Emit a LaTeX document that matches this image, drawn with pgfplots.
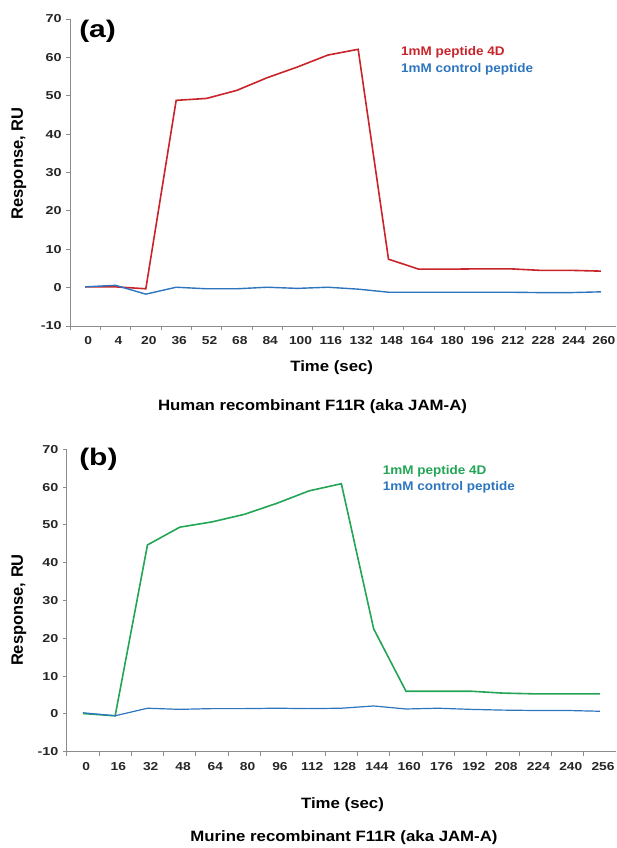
\documentclass[border=0pt]{standalone}
\usepackage{fontspec}
\setmainfont{Liberation Sans}
\usepackage{pgfplots}
\pgfplotsset{compat=1.18}

\definecolor{pepred}{RGB}{200,36,42}
\definecolor{pepblue}{RGB}{45,117,190}
\definecolor{pepgreen}{RGB}{34,165,84}
\definecolor{axgray}{RGB}{140,140,140}

\pgfplotsset{
  spr/.style={
    scale only axis, clip=false,
    axis x line*=bottom, axis y line*=left,
    axis line style={axgray, line width=0.9pt},
    tick style={axgray, line width=0.9pt},
    major tick length=4pt, tick align=outside,
    ymin=-10, ymax=70, ytick={-10,0,...,70},
    /pgf/number format/assume math mode=true,
    tick label style={font=\fontsize{11.5}{13}\selectfont\bfseries, text=black!85},
    yticklabel style={xscale=1.25},
  }
}

\newcommand{\ttl}{\fontsize{15}{17}\selectfont\bfseries}
\newcommand{\leg}{\fontsize{12.5}{14}\selectfont\bfseries}

\begin{document}
\begin{tikzpicture}
\useasboundingbox (0pt,0pt) rectangle (616pt,848pt);

% (a) human
\begin{axis}[spr,
  at={(70pt,522pt)}, anchor=south west,
  width=546pt, height=307pt,
  xmin=-0.5, xmax=17.5,
  xtick={-0.5,0.5,...,16.5},
  xticklabels={0,4,20,36,52,68,84,100,116,132,148,164,180,196,212,228,244,260},
  xticklabel style={xscale=1.2, xshift=15.17pt, yshift=-3pt},
]
\addplot[pepred, line width=1.6pt] coordinates {
 (0,0.2) (1,0.2) (2,-0.3) (3,48.8) (4,49.3) (5,51.4) (6,54.7) (7,57.5) (8,60.6)
 (9,62.1) (10,7.4) (11,4.8) (12,4.8) (13,4.9) (14,4.9) (15,4.5) (16,4.5) (17,4.3)
};
\addplot[pepblue, line width=1.4pt] coordinates {
 (0,0.2) (1,0.6) (2,-1.7) (3,0.1) (4,-0.3) (5,-0.3) (6,0.1) (7,-0.2) (8,0.1)
 (9,-0.4) (10,-1.2) (11,-1.2) (12,-1.2) (13,-1.2) (14,-1.2) (15,-1.3) (16,-1.3) (17,-1.1)
};
\end{axis}

\node[anchor=west, inner sep=0pt, font=\fontsize{24}{26}\selectfont\bfseries, xscale=1.25] at (79pt,816.5pt) {(a)};
\node[anchor=west, inner sep=0pt, font=\leg, text=pepred, xscale=1.08] at (401pt,795.3pt) {1mM peptide 4D};
\node[anchor=west, inner sep=0pt, font=\leg, text=pepblue, xscale=1.08] at (401pt,778.7pt) {1mM control peptide};
\node[font=\ttl, xscale=1.12] at (331.7pt,480pt) {Time (sec)};
\node[font=\ttl, xscale=1.12] at (312.5pt,441pt) {Human recombinant F11R (aka JAM-A)};
\node[font=\fontsize{16.5}{18}\selectfont\bfseries, rotate=90] at (19pt,684.5pt) {Response, RU};

% (b) murine
\begin{axis}[spr,
  at={(66.7pt,96.3pt)}, anchor=south west,
  width=549.3pt, height=302.4pt,
  xmin=-0.5, xmax=16.5,
  xtick={-0.5,0.5,...,15.5},
  xticklabels={0,16,32,48,64,80,96,112,128,144,160,176,192,208,224,240,256},
  xticklabel style={xscale=1.2, xshift=16.16pt, yshift=-3pt},
]
\addplot[pepgreen, line width=1.6pt] coordinates {
 (0,0.1) (1,-0.5) (2,44.7) (3,49.4) (4,50.8) (5,52.8) (6,55.7) (7,59.0) (8,60.9)
 (9,22.5) (10,6.0) (11,6.0) (12,6.0) (13,5.5) (14,5.3) (15,5.3) (16,5.3)
};
\addplot[pepblue, line width=1.2pt] coordinates {
 (0,0.3) (1,-0.5) (2,1.5) (3,1.2) (4,1.4) (5,1.4) (6,1.5) (7,1.4) (8,1.5)
 (9,2.1) (10,1.3) (11,1.5) (12,1.2) (13,1.0) (14,0.9) (15,0.9) (16,0.7)
};
\end{axis}

\node[anchor=west, inner sep=0pt, font=\fontsize{24}{26}\selectfont\bfseries, xscale=1.25] at (79pt,388.5pt) {(b)};
\node[anchor=west, inner sep=0pt, font=\leg, text=pepgreen, xscale=1.08] at (382.7pt,377pt) {1mM peptide 4D};
\node[anchor=west, inner sep=0pt, font=\leg, text=pepblue, xscale=1.08] at (382.7pt,360.3pt) {1mM control peptide};
\node[font=\ttl, xscale=1.12] at (342.5pt,43pt) {Time (sec)};
\node[font=\ttl, xscale=1.12] at (344pt,10.7pt) {Murine recombinant F11R (aka JAM-A)};
\node[font=\fontsize{16.5}{18}\selectfont\bfseries, rotate=90] at (19pt,238pt) {Response, RU};
\end{tikzpicture}
\end{document}
